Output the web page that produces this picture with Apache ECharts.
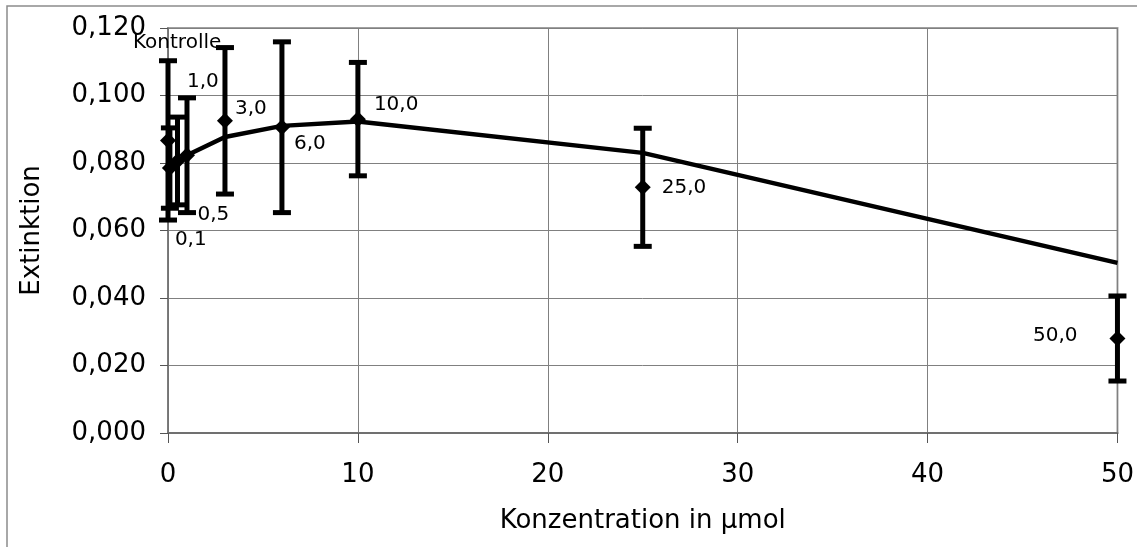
<!DOCTYPE html>
<html>
<head>
<meta charset="utf-8">
<script src="https://cdn.jsdelivr.net/npm/echarts@6/dist/echarts.min.js"></script>
<style>
  html, body { margin: 0; padding: 0; background: #ffffff; }
  #chart { width: 1137px; height: 547px; }
</style>
</head>
<body>
<div id="chart"></div>
<script>
// Konzentrationen (µmol) und zugehörige Beschriftungen
const concentrations = [0, 0.1, 0.5, 1, 3, 6, 10, 25, 50];
const pointLabels = ['Kontrolle', '0,1', '0,5', '1,0', '3,0', '6,0', '10,0', '25,0', '50,0'];
// Mittelwerte der Extinktion und Standardabweichungen
const meanExtinction = [0.0867, 0.0785, 0.0806, 0.0823, 0.0925, 0.0906, 0.0930, 0.0728, 0.0280];
const stdDeviation = [0.0236, 0.0119, 0.0130, 0.0170, 0.0217, 0.0253, 0.0168, 0.0175, 0.0126];
// Verlaufskurve
const trendExtinction = [0.0785, 0.0787, 0.0800, 0.0823, 0.0877, 0.0910, 0.0923, 0.0830, 0.0504];
// Achsenbeschriftungen
const xTickLabels = ['0', '10', '20', '30', '40', '50'];
const yTickLabels = ['0,000', '0,020', '0,040', '0,060', '0,080', '0,100', '0,120'];

const FONT = 'DejaVu Sans';

// Lage der Punktbeschriftungen relativ zum Marker: [dx, dy, Ausrichtung]
const labelPlacement = [
  [-35, -98, 'left'],
  [5, 72, 'left'],
  [20, 54, 'left'],
  [0, -73, 'left'],
  [10, -12, 'left'],
  [12, 17, 'left'],
  [16, -14, 'left'],
  [19, 0, 'left'],
  [-40, -3, 'right']
];

const errorData = concentrations.map((x, i) => [x, meanExtinction[i] - stdDeviation[i], meanExtinction[i] + stdDeviation[i]]);
const trendData = concentrations.map((x, i) => [x, trendExtinction[i]]);
const pointData = concentrations.map((x, i) => ({
  value: [x, meanExtinction[i]],
  label: {
    show: true,
    formatter: pointLabels[i],
    position: 'inside',
    align: labelPlacement[i][2],
    verticalAlign: 'middle',
    offset: [labelPlacement[i][0], labelPlacement[i][1]],
    fontFamily: FONT,
    fontSize: 20,
    color: '#000',
    opacity: 1,
    textBorderWidth: 0
  }
}));

const chart = echarts.init(document.getElementById('chart'), null, { renderer: 'canvas' });

chart.setOption({
  animation: false,
  backgroundColor: '#ffffff',
  graphic: [{
    type: 'rect',
    shape: { x: 7, y: 6, width: 1150, height: 560 },
    style: { fill: 'none', stroke: '#8c8c8c', lineWidth: 1.5 },
    silent: true,
    z: -10
  }],
  grid: {
    left: 168, right: 19, top: 28, bottom: 114,
    show: true,
    borderColor: '#a0a0a0',
    borderWidth: 2,
    backgroundColor: 'transparent'
  },
  xAxis: {
    type: 'value',
    min: 0, max: 50, interval: 10,
    name: 'Konzentration in µmol',
    nameLocation: 'middle',
    nameGap: 75,
    nameTextStyle: { fontFamily: FONT, fontSize: 26, color: '#000' },
    axisLine: { show: true, onZero: false, lineStyle: { color: '#707070', width: 2 } },
    axisTick: { show: true, inside: false, length: 10, lineStyle: { color: '#555', width: 1 } },
    axisLabel: {
      margin: 29,
      fontFamily: FONT, fontSize: 26, color: '#000',
      formatter: (v) => xTickLabels[Math.round(v / 10)]
    },
    splitLine: { show: true, lineStyle: { color: '#808080', width: 1 } }
  },
  yAxis: {
    type: 'value',
    min: 0, max: 0.12, interval: 0.02,
    name: 'Extinktion',
    nameLocation: 'middle',
    nameGap: 123,
    nameRotate: 90,
    nameTextStyle: { fontFamily: FONT, fontSize: 26, color: '#000' },
    axisLine: { show: true, onZero: false, lineStyle: { color: '#707070', width: 1.5 } },
    axisTick: { show: true, inside: false, length: 8, lineStyle: { color: '#555', width: 1 } },
    axisLabel: {
      margin: 22,
      fontFamily: FONT, fontSize: 26, color: '#000',
      formatter: (v) => yTickLabels[Math.round(v / 0.02)]
    },
    splitLine: { show: true, lineStyle: { color: '#808080', width: 1 } }
  },
  series: [
    {
      // Fehlerbalken (Mittelwert ± Standardabweichung)
      type: 'custom',
      data: errorData,
      z: 3,
      silent: true,
      renderItem: function (params, api) {
        const x = api.value(0);
        const top = api.coord([x, api.value(2)]);
        const bottom = api.coord([x, api.value(1)]);
        const half = 9;
        const style = { stroke: '#000', lineWidth: 5, fill: 'none' };
        return {
          type: 'group',
          children: [
            { type: 'line', shape: { x1: top[0], y1: top[1], x2: bottom[0], y2: bottom[1] }, style: style },
            { type: 'line', shape: { x1: top[0] - half, y1: top[1], x2: top[0] + half, y2: top[1] }, style: style },
            { type: 'line', shape: { x1: bottom[0] - half, y1: bottom[1], x2: bottom[0] + half, y2: bottom[1] }, style: style }
          ]
        };
      },
      encode: { x: 0, y: [1, 2] }
    },
    {
      // Verlaufskurve
      type: 'line',
      data: trendData,
      symbol: 'none',
      z: 4,
      lineStyle: { color: '#000', width: 4.5 },
      silent: true
    },
    {
      // Messpunkte mit Beschriftung
      type: 'scatter',
      data: pointData,
      symbol: 'diamond',
      symbolSize: 16,
      z: 5,
      itemStyle: { color: '#000', opacity: 1 },
      silent: true
    }
  ]
});
</script>
</body>
</html>
